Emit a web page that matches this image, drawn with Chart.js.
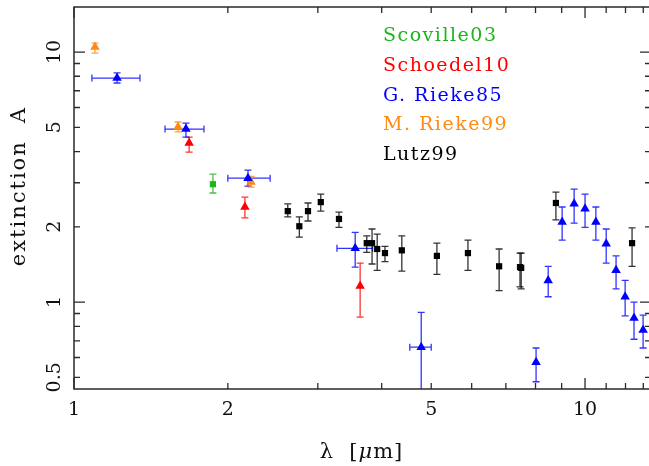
<!DOCTYPE html>
<html>
<head>
<meta charset="utf-8">
<script src="https://cdn.jsdelivr.net/npm/chart.js@4"></script>
<style>
  html, body { margin: 0; padding: 0; background: #fff; }
  #wrap { width: 649px; height: 466px; }
</style>
</head>
<body>
<div id="wrap"><canvas id="c" width="649" height="466"></canvas></div>
<script>
// ---------- data ----------
const scovLam = [1.87];
const scovA   = [2.96];
const scovLo  = [2.73];
const scovHi  = [3.25];

const schoLam = [1.68, 2.16, 3.63];
const schoA   = [4.33, 2.40, 1.16];
const schoLo  = [3.98, 2.17, 0.87];
const schoHi  = [4.57, 2.63, 1.43];

const grLam = [1.214, 1.656, 2.19, 3.55, 4.78, 8.02, 8.47, 9.02, 9.52, 10.0, 10.5, 11.0, 11.5, 11.98, 12.47, 12.99];
const grA   = [7.87, 4.92, 3.13, 1.64, 0.66, 0.575, 1.22, 2.09, 2.47, 2.36, 2.09, 1.71, 1.34, 1.05, 0.863, 0.773];
const grLo  = [7.52, 4.57, 2.91, 1.38, 0.35, 0.48, 1.05, 1.77, 2.07, 1.99, 1.77, 1.43, 1.13, 0.88, 0.71, 0.655];
const grHi  = [8.26, 5.20, 3.37, 1.90, 0.91, 0.655, 1.39, 2.40, 2.83, 2.70, 2.40, 1.96, 1.53, 1.22, 1.00, 0.887];
const grXLo = [1.084, 1.507, 2.00, 3.27, 4.54, null, null, null, null, null, null, null, null, null, null, null];
const grXHi = [1.346, 1.796, 2.42, 3.84, 5.00, null, null, null, null, null, null, null, null, null, null, null];

const mrLam = [1.099, 1.598, 2.22];
const mrA   = [10.47, 5.01, 3.02];
const mrLo  = [9.90, 4.79, 2.88];
const mrHi  = [10.86, 5.25, 3.18];

const lutzLam = [2.62, 2.76, 2.87, 3.04, 3.30, 3.74, 3.83, 3.92, 4.06, 4.38, 5.13, 5.90, 6.79, 7.46, 7.50, 8.77, 12.36];
const lutzA   = [2.31, 2.01, 2.31, 2.51, 2.15, 1.72, 1.72, 1.63, 1.57, 1.61, 1.53, 1.57, 1.39, 1.38, 1.37, 2.49, 1.72];
const lutzLo  = [2.19, 1.82, 2.11, 2.31, 1.99, 1.58, 1.42, 1.34, 1.45, 1.33, 1.29, 1.34, 1.11, 1.15, 1.13, 2.13, 1.39];
const lutzHi  = [2.47, 2.19, 2.49, 2.70, 2.29, 1.84, 1.96, 1.87, 1.67, 1.84, 1.72, 1.77, 1.63, 1.57, 1.57, 2.75, 1.98];

const seriesNames = ['Scoville03', 'Schoedel10', 'G. Rieke85', 'M. Rieke99', 'Lutz99'];

const xTickLabels = [1, 2, 5, 10];
const xMinorTicks = [2, 3, 4, 5, 6, 7, 8, 9, 11, 12, 13];
const xMajorTicks = [1, 10];
const yTickLabels = [0.5, 1, 2, 5, 10];
const yMinorTicks = [0.5, 0.6, 0.7, 0.8, 0.9, 2, 3, 4, 5, 6, 7, 8, 9];
const yMajorTicks = [1, 10];

// ---------- styling ----------
const GREEN = '#1db41d', RED = '#ff0000', BLUE = '#0000ff', ORANGE = '#ff8a12', BLACK = '#000000';
const FONT = '"DejaVu Serif", serif';

const series = [
  { name: seriesNames[0], lam: scovLam, A: scovA, lo: scovLo, hi: scovHi, color: GREEN, style: 'rect', r: 4.4 },
  { name: seriesNames[1], lam: schoLam, A: schoA, lo: schoLo, hi: schoHi, color: RED, style: 'triangle', r: 5.5 },
  { name: seriesNames[2], lam: grLam, A: grA, lo: grLo, hi: grHi, xlo: grXLo, xhi: grXHi, color: BLUE, style: 'triangle', r: 5.5 },
  { name: seriesNames[3], lam: mrLam, A: mrA, lo: mrLo, hi: mrHi, color: ORANGE, style: 'triangle', r: 5.5 },
  { name: seriesNames[4], lam: lutzLam, A: lutzA, lo: lutzLo, hi: lutzHi, color: BLACK, style: 'rect', r: 4.4 }
];

const datasets = series.map(s => ({
  label: s.name,
  data: s.lam.map((l, i) => ({ x: l, y: s.A[i] })),
  backgroundColor: s.color,
  borderColor: s.color,
  pointStyle: s.style,
  pointRadius: s.r,
  pointHoverRadius: s.r,
  borderWidth: 0,
  showLine: false
}));

const errPlugin = {
  id: 'errbars',
  beforeDatasetsDraw(chart) {
    const { ctx, chartArea: a } = chart;
    const xs = chart.scales.x, ys = chart.scales.y;
    ctx.save();
    ctx.beginPath();
    ctx.rect(a.left, a.top, a.right - a.left, a.bottom - a.top);
    ctx.clip();
    ctx.lineWidth = 1.3;
    const cap = 3.5;
    series.forEach(s => {
      ctx.strokeStyle = s.color;
      ctx.globalAlpha = 0.8;
      s.lam.forEach((l, i) => {
        const px = xs.getPixelForValue(l);
        const py = ys.getPixelForValue(s.A[i]);
        const t = ys.getPixelForValue(s.hi[i]);
        const b = ys.getPixelForValue(s.lo[i]);
        ctx.beginPath();
        ctx.moveTo(px, t); ctx.lineTo(px, b);
        ctx.moveTo(px - cap, t); ctx.lineTo(px + cap, t);
        ctx.moveTo(px - cap, b); ctx.lineTo(px + cap, b);
        if (s.xlo && s.xlo[i] != null) {
          const l0 = xs.getPixelForValue(s.xlo[i]);
          const l1 = xs.getPixelForValue(s.xhi[i]);
          ctx.moveTo(l0, py); ctx.lineTo(l1, py);
          ctx.moveTo(l0, py - cap); ctx.lineTo(l0, py + cap);
          ctx.moveTo(l1, py - cap); ctx.lineTo(l1, py + cap);
        }
        ctx.stroke();
      });
    });
    ctx.restore();
  },
  afterDraw(chart) {
    const { ctx, chartArea: a } = chart;
    const xs = chart.scales.x, ys = chart.scales.y;
    const R = a.right + 2;
    ctx.save();
    // frame
    ctx.strokeStyle = '#2a2a2a';
    ctx.lineWidth = 1.5;
    ctx.beginPath();
    ctx.moveTo(R, a.top); ctx.lineTo(a.left, a.top); ctx.lineTo(a.left, a.bottom); ctx.lineTo(R, a.bottom);
    ctx.stroke();
    // ticks
    ctx.lineWidth = 1.3;
    ctx.beginPath();
    const xt = (v, len) => {
      const p = xs.getPixelForValue(v);
      ctx.moveTo(p, a.bottom); ctx.lineTo(p, a.bottom - len);
      ctx.moveTo(p, a.top); ctx.lineTo(p, a.top + len);
    };
    const yt = (v, len) => {
      const p = ys.getPixelForValue(v);
      ctx.moveTo(a.left, p); ctx.lineTo(a.left + len, p);
      ctx.moveTo(R, p); ctx.lineTo(R - len, p);
    };
    xMinorTicks.forEach(v => xt(v, 6));
    xMajorTicks.forEach(v => xt(v, 11));
    yMinorTicks.forEach(v => yt(v, 6));
    yMajorTicks.forEach(v => yt(v, 11));
    ctx.stroke();

    // tick labels
    ctx.fillStyle = '#111';
    ctx.font = '19px ' + FONT;
    ctx.textAlign = 'center';
    ctx.textBaseline = 'middle';
    xTickLabels.forEach(v => {
      ctx.fillText(String(v), xs.getPixelForValue(v), 410);
    });
    yTickLabels.forEach(v => {
      ctx.save();
      ctx.translate(55, ys.getPixelForValue(v));
      ctx.rotate(-Math.PI / 2);
      ctx.fillText(String(v), 0, 0);
      ctx.restore();
    });

    // axis titles
    ctx.font = '21px ' + FONT;
    ctx.letterSpacing = '2px';
    ctx.save();
    ctx.translate(20, 186);
    ctx.rotate(-Math.PI / 2);
    ctx.fillText('extinction  A', 0, 0);
    ctx.restore();

    // x title: λ [μm] with italic μ
    ctx.letterSpacing = '1px';
    const parts = [['λ  [', 'normal'], ['μ', 'italic'], ['m]', 'normal']];
    const widths = parts.map(p => { ctx.font = p[1] + ' 21px ' + FONT; return ctx.measureText(p[0]).width; });
    let xx = (a.left + a.right) / 2 - widths.reduce((s, w) => s + w, 0) / 2;
    ctx.textAlign = 'left';
    parts.forEach((p, i) => {
      ctx.font = p[1] + ' 21px ' + FONT;
      ctx.fillText(p[0], xx, 453);
      xx += widths[i];
    });

    // legend text
    ctx.font = '19px ' + FONT;
    ctx.letterSpacing = '1.5px';
    ctx.textAlign = 'left';
    ctx.textBaseline = 'middle';
    series.forEach((s, i) => {
      ctx.fillStyle = s.color;
      ctx.fillText(s.name, 383, 36 + i * 29.8);
    });
    ctx.restore();
  }
};

new Chart(document.getElementById('c'), {
  type: 'scatter',
  data: { datasets },
  options: {
    responsive: false,
    animation: false,
    layout: { autoPadding: false, padding: { left: 74, right: 0, top: 7, bottom: 77 } },
    plugins: { legend: { display: false }, tooltip: { enabled: false } },
    scales: {
      x: { type: 'logarithmic', min: 1, max: 13.34, display: false },
      y: { type: 'logarithmic', min: 0.449, max: 15.14, display: false }
    }
  },
  plugins: [errPlugin]
});
</script>
</body>
</html>
